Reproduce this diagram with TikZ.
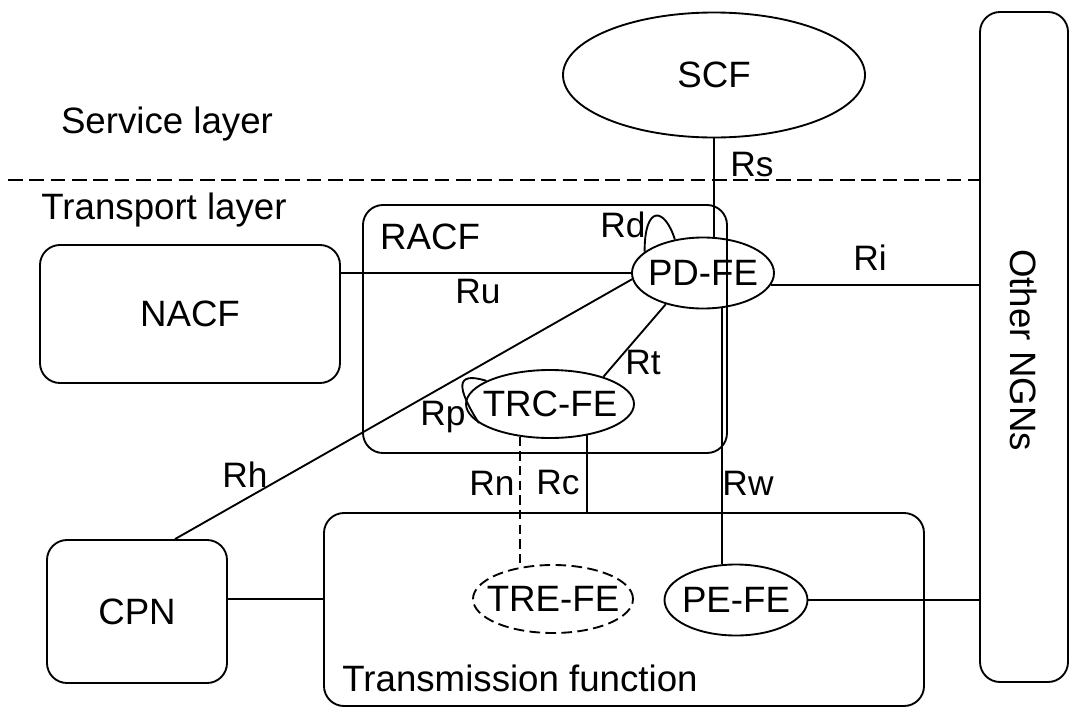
\documentclass[tikz,border=0pt]{standalone}
\usepackage{fontspec}
\setmainfont{Liberation Sans}
\usepackage{tikz}
\usetikzlibrary{shapes,calc}

\begin{document}
\begin{tikzpicture}[x = .75pt, y = -.75pt, line width = 1.4pt,
  every node/.style = {font = \fontsize{27.5}{33}\selectfont, inner sep = 0pt},
  fe/.style = {draw, ellipse, inner xsep = -15pt},
  box/.style = {draw, rectangle, rounded corners = 15pt},
  lbl/.style = {font = \fontsize{26.5}{32}\selectfont}]
\useasboundingbox (0, 0) rectangle (1070, 707);

\node[box, minimum width = 273pt, minimum height = 186pt] (racf) at (545, 329) {};
\node[box, minimum width = 450pt, minimum height = 144.75pt] (trans) at (624, 609.5) {};
\node[box, minimum width = 66pt, minimum height = 502.5pt] (ngn) at (1024, 347) {};
\node[box, minimum width = 225pt, minimum height = 103.5pt] (nacf) at (190, 314) {NACF};
\node[box, minimum width = 135pt, minimum height = 107.25pt] (cpn) at (137, 611.5) {CPN};

\node[fe, minimum width = 226.5pt, minimum height = 93.75pt] (scf) at (714, 75) {SCF};
\node[fe, minimum width = 106.5pt, minimum height = 53.25pt] (pdfe) at (703, 273) {PD-FE};
\node[fe, minimum width = 126pt, minimum height = 51pt] (trcfe) at (550, 404) {TRC-FE};
\node[fe, dashed, dash pattern = on 8pt off 4pt, minimum width = 120pt, minimum height = 51pt] (trefe) at (553, 599) {TRE-FE};
\node[fe, minimum width = 107.25pt, minimum height = 53.25pt] (pefe) at (736, 600) {PE-FE};

\node (service) at (167, 124) {Service layer};
\node (transport) at (164, 210) {Transport layer};
\node (racflbl) at (430, 237) {RACF};
\node (translbl) at (520, 678) {Transmission function};
\node[rotate = -90] (ngnlbl) at (1024, 350) {Other NGNs};

\coordinate (layer) at (8, 180);
\draw[dashed, dash pattern = on 11pt off 5pt] (layer) -- (layer -| ngn.west);

\draw (scf.south) -- (pdfe.north -| scf.south);
\draw (nacf.east |- pdfe.west) -- (pdfe.west);
\draw (pdfe.-10) -- (pdfe.-10 -| ngn.west);
\draw (pdfe.185) -- ($(cpn.north) + (38, 0)$);
\draw (pdfe.220) -- (trcfe.27);
\draw[dashed, dash pattern = on 7pt off 4pt] (trcfe.227) -- (trcfe.227 |- trefe.137);
\draw (trcfe.320) -- (trcfe.320 |- trans.north);
\draw (pdfe.298) -- (pdfe.298 |- pefe.113);
\draw (pefe.east) -- (pefe.east -| ngn.west);
\draw (cpn.east |- trefe) -- (trans.west |- trefe);

\draw (pdfe.160) .. controls +(0, -48) and +(-10, -32) .. (pdfe.130);
\draw (trcfe.195) .. controls +(-22, -35) and +(-32, -10) .. (trcfe.160);

\node[lbl] (rs) at (752, 165) {Rs};
\node[lbl] (rd) at (623, 225) {Rd};
\node[lbl] (ri) at (870, 258) {Ri};
\node[lbl] (ru) at (478, 292) {Ru};
\node[lbl] (rh) at (245, 475) {Rh};
\node[lbl] (rt) at (643, 362) {Rt};
\node[lbl] (rp) at (443, 417) {Rp};
\node[lbl] (rn) at (492, 483) {Rn};
\node[lbl] (rc) at (558, 483) {Rc};
\node[lbl] (rw) at (748, 483) {Rw};

\end{tikzpicture}
\end{document}
